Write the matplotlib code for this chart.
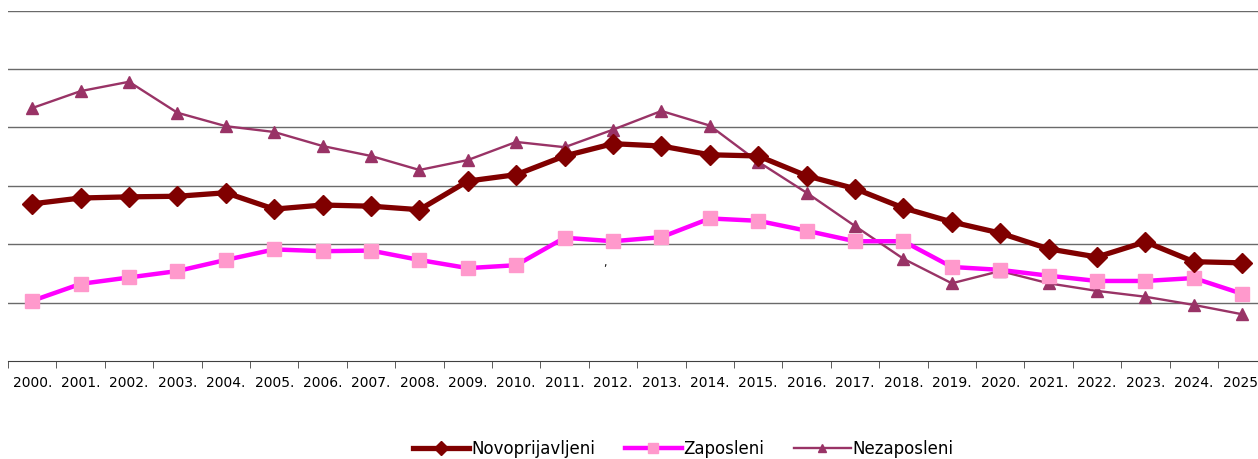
import matplotlib
matplotlib.use("Agg")
import matplotlib.pyplot as plt
import numpy as np

# godine i serije (vrijednosti ocitane sa slike, relativna skala 0-6)
years = [str(y) + "." for y in range(2000, 2026)]
novoprijavljeni = [2.69, 2.79, 2.81, 2.82, 2.88, 2.60, 2.67, 2.65, 2.59, 3.08,
                   3.19, 3.51, 3.72, 3.68, 3.53, 3.51, 3.17, 2.95, 2.62, 2.38,
                   2.19, 1.92, 1.78, 2.04, 1.70, 1.68]
zaposleni = [1.03, 1.32, 1.43, 1.54, 1.73, 1.91, 1.88, 1.89, 1.73, 1.59,
             1.64, 2.11, 2.05, 2.12, 2.44, 2.40, 2.23, 2.05, 2.05, 1.61,
             1.56, 1.46, 1.37, 1.37, 1.42, 1.15]
nezaposleni = [4.33, 4.62, 4.78, 4.25, 4.02, 3.92, 3.68, 3.51, 3.27, 3.44,
               3.75, 3.66, 3.96, 4.28, 4.03, 3.41, 2.88, 2.31, 1.75, 1.33,
               1.54, 1.33, 1.20, 1.10, 0.96, 0.80]

W, H = 1258, 459
fig = plt.figure(figsize=(W / 100, H / 100), dpi=100)
ax = fig.add_axes([8 / W, (H - 361) / H, (W - 8) / W, (361 - 10.5) / H])

x = np.arange(len(years))
ax.plot(x, novoprijavljeni, color="#800000", lw=3.8, marker="D", ms=10,
        mfc="#800000", mec="#800000", label="Novoprijavljeni", zorder=4)
ax.plot(x, zaposleni, color="#FF00FF", lw=3.2, marker="s", ms=9.5,
        mfc="#FF99CC", mec="#FF99CC", label="Zaposleni", zorder=3)
ax.plot(x, nezaposleni, color="#993366", lw=1.7, marker="^", ms=9,
        mfc="#993366", mec="#993366", label="Nezaposleni", zorder=2)

ax.set_yticks(np.arange(1, 7))
ax.yaxis.grid(True, color="#6a6a6a", lw=1)
ax.set_axisbelow(True)
ax.tick_params(axis="y", left=False, labelleft=False)

ax.set_xticks(x)
ax.set_xticklabels(years, fontsize=10)
ax.set_xticks(np.arange(-0.5, len(years)), minor=True)
ax.tick_params(axis="x", which="major", length=0, pad=11)
ax.tick_params(axis="x", which="minor", length=5, color="#404040")

# desni rub je odsjecen kao na originalu
ax.set_xlim(-0.5, (W - 8) / 48.4 - 0.5)
ax.set_ylim(0, 6)

for s in ["top", "right", "left"]:
    ax.spines[s].set_visible(False)
ax.spines["bottom"].set_color("#404040")

fig.text(605 / W, 1 - 263 / H, ",", fontsize=8, ha="center", va="center")

fig.legend(loc="center", bbox_to_anchor=(683 / W, 1 - 449 / H), ncol=3,
           frameon=False, fontsize=12, handlelength=3.4, handletextpad=0.1,
           columnspacing=1.8, markerscale=0.7)

fig.savefig("out.png", dpi=100)
